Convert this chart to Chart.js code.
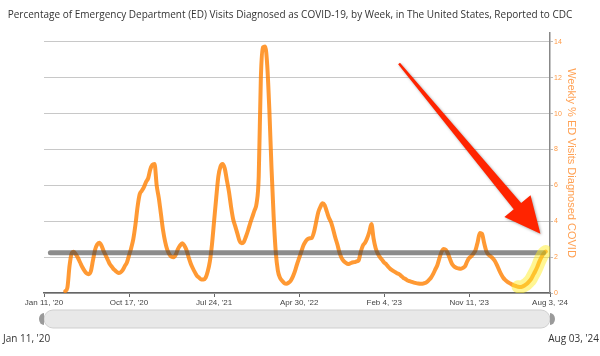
<!DOCTYPE html>
<html>
<head>
<meta charset="utf-8">
<script src="https://cdn.jsdelivr.net/npm/chart.js@4"></script>
<style>
html,body{margin:0;padding:0;background:#fff;}
#wrap{position:relative;width:600px;height:356px;}
</style>
</head>
<body>
<div id="wrap"><canvas id="c"></canvas></div>
<script>
// ---- data (weekly, index 0 = week ending Jan 11, '20) ----
const chartTitle = "Percentage of Emergency Department (ED) Visits Diagnosed as COVID-19, by Week, in The United States, Reported to CDC";
const axisTitle = "Weekly % ED Visits Diagnosed COVID";
const tickWeeks = [0, 40, 80, 120, 160, 200, 238];
const tickLabels = ["Jan 11, '20", "Oct 17, '20", "Jul 24, '21", "Apr 30, '22", "Feb 4, '23", "Nov 11, '23", "Aug 3, '24"];
const rangeStartLabel = "Jan 11, '20";
const rangeEndLabel = "Aug 03, '24";
const firstWeek = 10;
const pctValues = [
  0.1, 0.3, 1.5, 2.2, 2.3, 2.15, 1.95, 1.7, 1.45, 1.25,
  1.1, 1.05, 1.2, 1.8, 2.4, 2.7, 2.8, 2.65, 2.35, 2.1,
  1.85, 1.6, 1.45, 1.3, 1.2, 1.12, 1.15, 1.27, 1.5, 1.7,
  2.1, 2.5, 3.0, 3.8, 4.8, 5.5, 5.7, 5.9, 6.2, 6.4,
  6.9, 7.15, 7.2, 6.0, 5.3, 4.4, 3.5, 2.85, 2.4, 2.15,
  2.02, 2.0, 2.15, 2.45, 2.65, 2.78, 2.65, 2.4, 2.0, 1.65,
  1.38, 1.15, 0.95, 0.85, 0.75, 0.75, 0.85, 1.2, 1.75, 2.7,
  4.0, 5.3, 6.5, 7.05, 7.2, 6.95, 6.3, 5.65, 4.8, 4.1,
  3.7, 3.3, 2.9, 2.78, 2.85, 3.15, 3.5, 3.9, 4.25, 4.6,
  5.0, 6.5, 12.0, 13.7, 13.75, 12.7, 10.2, 7.0, 4.3, 2.3,
  1.25, 0.85, 0.68, 0.55, 0.52, 0.57, 0.68, 0.9, 1.2, 1.6,
  1.95, 2.3, 2.65, 2.87, 3.0, 3.05, 3.08, 3.4, 3.95, 4.5,
  4.8, 5.0, 4.9, 4.55, 4.2, 3.95, 3.55, 3.1, 2.7, 2.25,
  1.95, 1.78, 1.68, 1.62, 1.65, 1.7, 1.72, 1.76, 1.82, 2.3,
  2.65, 2.8, 3.05, 3.4, 3.85, 3.05, 2.5, 2.2, 2.0, 1.85,
  1.7, 1.6, 1.45, 1.33, 1.25, 1.18, 1.1, 1.05, 0.95, 0.85,
  0.78, 0.7, 0.66, 0.62, 0.58, 0.55, 0.53, 0.52, 0.52, 0.55,
  0.61, 0.72, 0.85, 1.05, 1.3, 1.55, 1.95, 2.3, 2.45, 2.4,
  2.2, 1.88, 1.6, 1.47, 1.4, 1.37, 1.35, 1.4, 1.48, 1.75,
  1.95, 2.05, 2.2, 2.4, 2.85, 3.35, 3.3, 2.8, 2.35, 2.15,
  2.05, 1.95, 1.8, 1.57, 1.3, 1.05, 0.85, 0.72, 0.62, 0.55,
  0.48, 0.43, 0.39, 0.35, 0.33, 0.36, 0.42, 0.5, 0.62, 0.76,
  0.98, 1.2, 1.45, 1.75, 2.0, 2.2, 2.31
];
const referenceLevel = 2.25;
const referenceWeeks = [3, 235];
const highlightFromWeek = 223;
const arrowTail = {week: 167, value: 12.8};
const arrowTip = {week: 233.5, value: 3.3};

// ---- build points ----
const mainPoints = pctValues.map((v, k) => ({x: firstWeek + k, y: v}));
const highlightPoints = mainPoints.filter(p => p.x >= highlightFromWeek);
const refPoints = referenceWeeks.map(w => ({x: w, y: referenceLevel}));

const titlePlugin = {
  id: 'topTitle',
  afterDraw(chart) {
    const ctx = chart.ctx;
    ctx.save();
    ctx.fillStyle = '#333';
    ctx.font = '10px "Open Sans"';
    ctx.textAlign = 'center';
    ctx.textBaseline = 'middle';
    ctx.fillText(chartTitle, 290, 15);
    ctx.restore();
  }
};

const arrowPlugin = {
  id: 'arrow',
  afterDatasetsDraw(chart) {
    const xs = chart.scales.x, ys = chart.scales.y, ctx = chart.ctx;
    const x0 = xs.getPixelForValue(arrowTail.week), y0 = ys.getPixelForValue(arrowTail.value);
    const x1 = xs.getPixelForValue(arrowTip.week), y1 = ys.getPixelForValue(arrowTip.value);
    const dx = x1 - x0, dy = y1 - y0, len = Math.hypot(dx, dy);
    const ux = dx / len, uy = dy / len, px = -uy, py = ux;
    const headLen = 36, headHalf = 17, tailHalf = 1.2, neckHalf = 4.8;
    const bx = x1 - ux * headLen, by = y1 - uy * headLen;
    ctx.save();
    ctx.shadowColor = 'rgba(0,0,0,0.35)';
    ctx.shadowBlur = 3;
    ctx.shadowOffsetX = 1;
    ctx.shadowOffsetY = 1;
    ctx.fillStyle = '#ff2400';
    ctx.beginPath();
    ctx.moveTo(x0 + px * tailHalf, y0 + py * tailHalf);
    ctx.lineTo(bx + px * neckHalf, by + py * neckHalf);
    ctx.lineTo(bx + px * headHalf, by + py * headHalf);
    ctx.lineTo(x1, y1);
    ctx.lineTo(bx - px * headHalf, by - py * headHalf);
    ctx.lineTo(bx - px * neckHalf, by - py * neckHalf);
    ctx.lineTo(x0 - px * tailHalf, y0 - py * tailHalf);
    ctx.closePath();
    ctx.fill();
    ctx.restore();
  }
};

const sliderPlugin = {
  id: 'slider',
  afterDraw(chart) {
    const ctx = chart.ctx, a = chart.chartArea;
    const left = a.left, right = a.right, top = a.bottom + 17, h = 18, r = 9;
    ctx.save();
    ctx.beginPath();
    ctx.moveTo(left + r, top);
    ctx.lineTo(right - r, top);
    ctx.arc(right - r, top + r, r, -Math.PI / 2, Math.PI / 2);
    ctx.lineTo(left + r, top + h);
    ctx.arc(left + r, top + r, r, Math.PI / 2, Math.PI * 1.5);
    ctx.closePath();
    ctx.fillStyle = '#e8e8e8';
    ctx.fill();
    ctx.strokeStyle = '#cfcfcf';
    ctx.lineWidth = 1;
    ctx.stroke();
    ctx.fillStyle = '#9a9a9a';
    ctx.beginPath();
    ctx.ellipse(left, top + r, 5, 6, 0, Math.PI / 2, Math.PI * 1.5);
    ctx.closePath();
    ctx.fill();
    ctx.beginPath();
    ctx.ellipse(right, top + r, 5, 6, 0, -Math.PI / 2, Math.PI / 2);
    ctx.closePath();
    ctx.fill();
    ctx.fillStyle = '#333';
    ctx.font = '10px "Open Sans"';
    ctx.textBaseline = 'middle';
    ctx.textAlign = 'left';
    ctx.fillText(rangeStartLabel, 3, top + h + 11);
    ctx.textAlign = 'right';
    ctx.fillText(rangeEndLabel, 599, top + h + 11);
    ctx.restore();
  }
};

new Chart(document.getElementById('c'), {
  type: 'line',
  data: {
    datasets: [
      {
        data: highlightPoints, order: 0,
        borderColor: 'rgba(255,238,40,0.5)', borderWidth: 13,
        borderCapStyle: 'round', borderJoinStyle: 'round',
        pointRadius: 0, cubicInterpolationMode: 'monotone', fill: false
      },
      {
        data: refPoints, order: 1,
        borderColor: 'rgba(70,70,70,0.62)', borderWidth: 5,
        borderCapStyle: 'round', pointRadius: 0, fill: false
      },
      {
        data: mainPoints, order: 2,
        borderColor: 'rgba(255,128,0,0.8)', borderWidth: 4,
        borderCapStyle: 'round', borderJoinStyle: 'round',
        pointRadius: 0, cubicInterpolationMode: 'monotone', fill: false
      }
    ]
  },
  options: {
    responsive: true,
    maintainAspectRatio: false,
    animation: false,
    events: [],
    layout: {padding: {left: 44, right: 20, top: 33, bottom: 43}},
    plugins: {
      legend: {display: false},
      tooltip: {enabled: false},
      title: {display: false}
    },
    scales: {
      x: {
        type: 'linear', min: 0, max: 238,
        afterBuildTicks(s) { s.ticks = tickWeeks.map(v => ({value: v})); },
        afterFit(s) { s.height = 20; },
        ticks: {
          autoSkip: false, maxRotation: 0, padding: 1, color: '#444',
          font: {family: '"Liberation Sans"', size: 8},
          callback(v) { const k = tickWeeks.indexOf(v); return k >= 0 ? tickLabels[k] : ''; }
        },
        grid: {drawOnChartArea: false, tickLength: 4, tickColor: '#666'},
        border: {color: '#666', width: 1.5}
      },
      y: {
        position: 'right', min: 0, max: 14.5,
        afterBuildTicks(s) { s.ticks = s.ticks.filter(t => t.value % 2 === 0); },
        afterFit(s) { s.width = 30; },
        ticks: {
          stepSize: 2, padding: 1, color: '#ff9a45',
          font: {family: '"Liberation Sans"', size: 7}
        },
        grid: {color: '#c8c8c8', lineWidth: 1, tickLength: 3, tickColor: '#bbb'},
        border: {color: '#888', width: 1.5},
        title: {
          display: true, text: axisTitle, color: '#ffa052',
          font: {family: '"Liberation Sans"', size: 11}, padding: {top: 2, bottom: 0}
        }
      }
    }
  },
  plugins: [titlePlugin, arrowPlugin, sliderPlugin]
});
</script>
</body>
</html>
